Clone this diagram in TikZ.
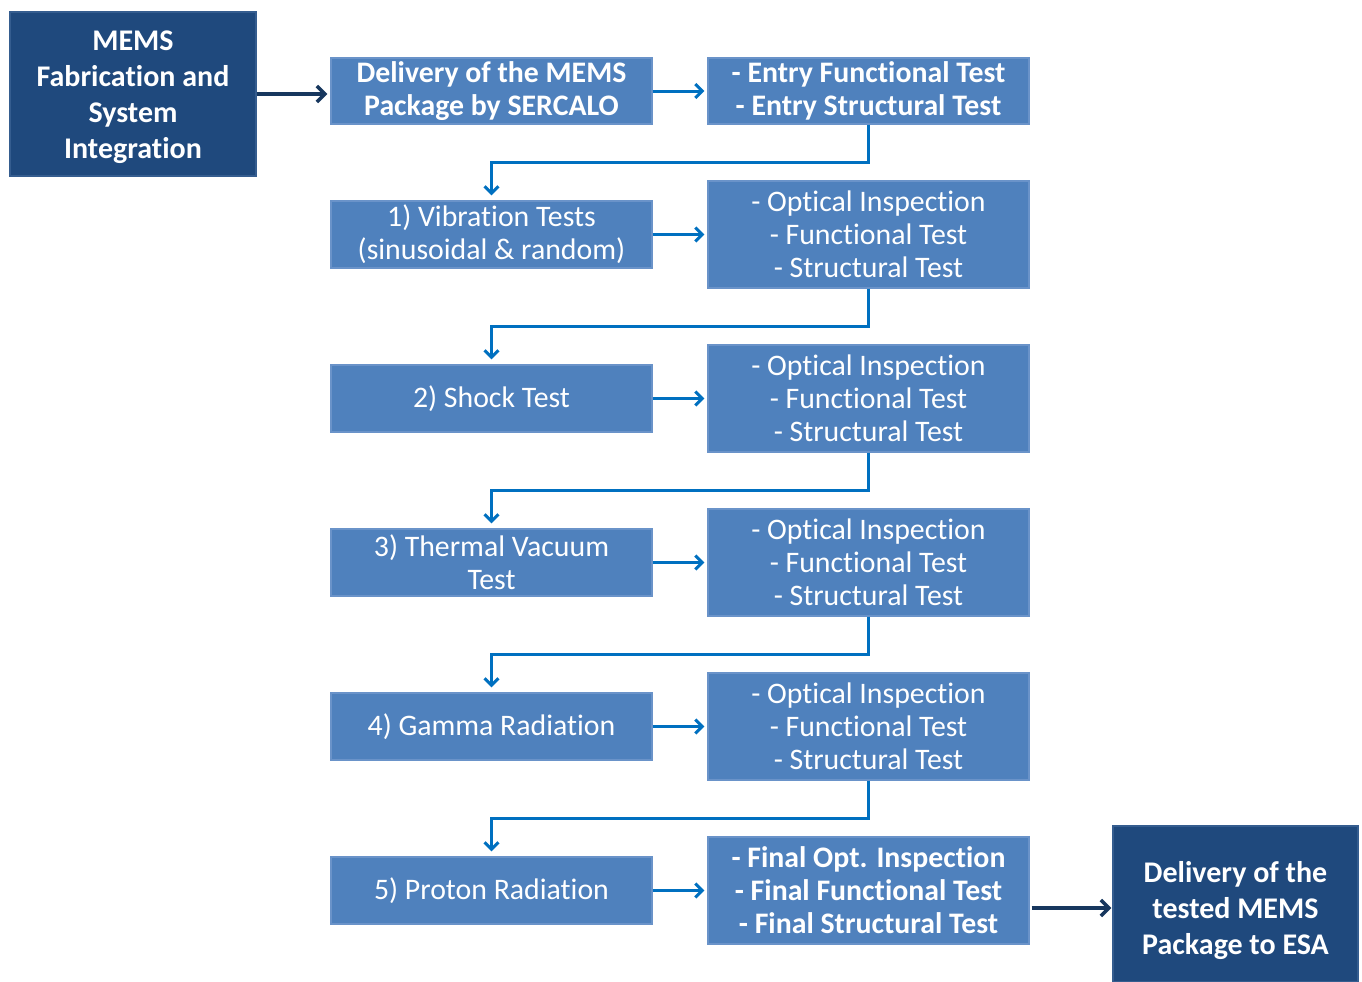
\documentclass[tikz,border=0pt]{standalone}
\usepackage{fontspec}
\setmainfont[Ligatures=NoCommon]{Carlito}
\usetikzlibrary{arrows.meta,calc}
\definecolor{lightbox}{HTML}{4F81BD}
\definecolor{lightedge}{HTML}{6A93C9}
\definecolor{darkbox}{HTML}{1F497D}
\definecolor{darkedge}{HTML}{355D8F}
\definecolor{arrblue}{HTML}{0070C0}
\definecolor{arrdark}{HTML}{17375E}
\tikzset{
  lbox/.style={draw=lightedge, line width=1.2pt, fill=lightbox, text=white, align=center,
    minimum width=321pt, inner sep=0pt, font=\fontsize{29.8}{33}\selectfont},
  dbox/.style={draw=darkedge, line width=1.2pt, fill=darkbox, minimum width=246pt, inner sep=0pt},
  dtext/.style={text=white, align=center, inner sep=0pt, font=\fontsize{30}{36}\selectfont\bfseries},
  boldtxt/.style={font=\fontsize{29.8}{33}\selectfont\bfseries},
  barr/.style={draw=arrblue, line width=3pt, -{Straight Barb[length=7pt,width=14pt,line width=3pt]}},
  darr/.style={draw=arrdark, line width=4pt, -{Straight Barb[length=8pt,width=16pt,line width=3.5pt]}}
}
\begin{document}
\begin{tikzpicture}[x=1pt,y=-1pt]
\useasboundingbox (0,0) rectangle (1362,982);
\fill[white] (0,0) rectangle (1362,982);
% dark boxes
\node[dbox, minimum height=164pt,
  label={[dtext, yshift=-3pt]center:{MEMS\\Fabrication and\\System\\Integration}}] (mems) at (133,94) {};
\node[dbox, minimum width=245pt, minimum height=156pt,
  label={[dtext, yshift=-7pt]center:{Delivery of the\\tested MEMS\\Package to ESA}}] (esa) at (1235.5,904) {};
% top row
\node[lbox, boldtxt, minimum height=66pt] (del) at (491.5,91) {Delivery of the MEMS\\Package by SERCALO};
\node[lbox, boldtxt, minimum height=66pt] (entry) at (868.5,91) {- Entry Functional Test\\- Entry Structural Test};
% left column
\node[lbox, minimum height=67pt] (v1) at (491.5,234.5) {1) Vibration Tests\\(sinusoidal \& random)};
\node[lbox, minimum height=67pt] (v2) at (491.5,398.5) {2) Shock Test};
\node[lbox, minimum height=67pt] (v3) at (491.5,562.5) {3) Thermal Vacuum\\Test};
\node[lbox, minimum height=67pt] (v4) at (491.5,726.5) {4) Gamma Radiation};
\node[lbox, minimum height=67pt] (v5) at (491.5,890.5) {5) Proton Radiation};
% right column
\node[lbox, minimum height=107pt] (r1) at (868.5,234.5) {- Optical Inspection\\- Functional Test\\- Structural Test};
\node[lbox, minimum height=107pt] (r2) at (868.5,398.5) {- Optical Inspection\\- Functional Test\\- Structural Test};
\node[lbox, minimum height=107pt] (r3) at (868.5,562.5) {- Optical Inspection\\- Functional Test\\- Structural Test};
\node[lbox, minimum height=107pt] (r4) at (868.5,726.5) {- Optical Inspection\\- Functional Test\\- Structural Test};
\node[lbox, boldtxt, minimum height=107pt] (r5) at (868.5,890.5) {- Final Opt. Inspection\\- Final Functional Test\\- Final Structural Test};
% elbow coordinates
\coordinate (c1) at (0,162);
\coordinate (c2) at (0,326);
\coordinate (c3) at (0,490);
\coordinate (c4) at (0,654);
\coordinate (c5) at (0,818);
% dark arrows
\draw[darr] (mems.east) -- ($(del.west |- mems.east)+(-3,0)$);
\coordinate (fy) at (0,908);
\draw[darr] ($(r5.east |- fy)+(2,0)$) -- ($(esa.west |- fy)+(-1,0)$);
% horizontal blue arrows
\draw[barr, shorten >=3pt] (del.east) -- (entry.west);
\draw[barr, shorten >=3pt] (v1.east) -- (r1.west);
\draw[barr, shorten >=3pt] (v2.east) -- (r2.west);
\draw[barr, shorten >=3pt] (v3.east) -- (r3.west);
\draw[barr, shorten >=3pt] (v4.east) -- (r4.west);
\draw[barr, shorten >=3pt] (v5.east) -- (r5.west);
% elbow connectors
\draw[barr, shorten >=5pt] (entry.south) -- (entry.south |- c1) -| (v1.north);
\draw[barr, shorten >=5pt] (r1.south) -- (r1.south |- c2) -| (v2.north);
\draw[barr, shorten >=5pt] (r2.south) -- (r2.south |- c3) -| (v3.north);
\draw[barr, shorten >=5pt] (r3.south) -- (r3.south |- c4) -| (v4.north);
\draw[barr, shorten >=5pt] (r4.south) -- (r4.south |- c5) -| (v5.north);
\end{tikzpicture}
\end{document}
